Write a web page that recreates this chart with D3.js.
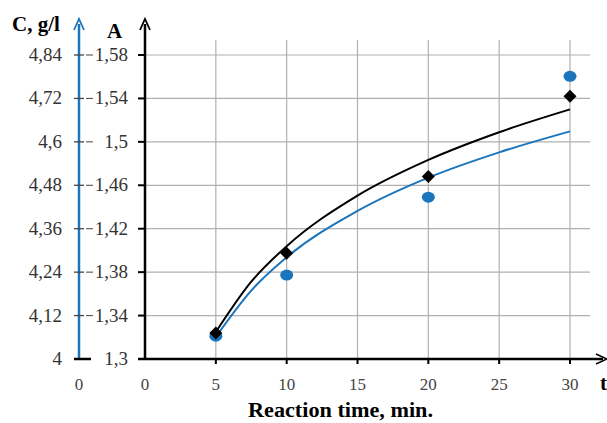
<!DOCTYPE html>
<html>
<head>
<meta charset="utf-8">
<script src="https://cdn.jsdelivr.net/npm/d3@7"></script>
<style>
  body { margin: 0; background: #fff; }
</style>
</head>
<body>
<div id="chart"></div>
<script>
// measured points
var times = [5, 10, 20, 30];
var absorb = [1.324, 1.3975, 1.468, 1.542];   // A (black diamonds)
var conc = [4.063, 4.232, 4.447, 4.781];      // C, g/l (blue circles)

// trend lines
var trendT = [5, 7.5, 10, 15, 20, 25, 30];
var trendA = [1.3248, 1.3712, 1.4039, 1.4505, 1.4834, 1.5089, 1.5299];
var trendC = [4.061, 4.189, 4.281, 4.409, 4.501, 4.571, 4.629];

var xTicks = [5, 10, 15, 20, 25, 30];
var aTicks = [1.3, 1.34, 1.38, 1.42, 1.46, 1.5, 1.54, 1.58];
var cTicks = [4, 4.12, 4.24, 4.36, 4.48, 4.6, 4.72, 4.84];

var W = 607, H = 423;
var blue = "#1b75bc";
var x0 = 145, blueX = 79, yBottom = 359;

var svg = d3.select("#chart").append("svg")
  .attr("width", W).attr("height", H)
  .attr("font-family", "'Liberation Serif', 'Times New Roman', serif");

var x = d3.scaleLinear().domain([0, 30]).range([x0, 570]);
var yA = d3.scaleLinear().domain([1.3, 1.58]).range([yBottom, 55]);
var yC = d3.scaleLinear().domain([4, 4.84]).range([yBottom, 55]);

var fmt = function(v) { return String(+v.toFixed(2)).replace(".", ","); };

// grid
svg.append("g").selectAll("line.h")
  .data(aTicks.slice(1)).enter().append("line")
  .attr("x1", x0).attr("x2", 590)
  .attr("y1", d => yA(d)).attr("y2", d => yA(d))
  .attr("stroke", "#b0b0b0").attr("stroke-width", 1.2);

svg.append("g").selectAll("line.v")
  .data(xTicks).enter().append("line")
  .attr("x1", d => x(d)).attr("x2", d => x(d))
  .attr("y1", 40).attr("y2", yBottom + 4)
  .attr("stroke", "#b0b0b0").attr("stroke-width", 1.2);

// x axis
svg.append("line")
  .attr("x1", x0 - 7).attr("x2", 603)
  .attr("y1", yBottom).attr("y2", yBottom)
  .attr("stroke", "#000").attr("stroke-width", 2.5);
svg.append("path")
  .attr("d", "M596," + (yBottom - 5) + " L607," + yBottom + " L596," + (yBottom + 5))
  .attr("fill", "none").attr("stroke", "#000").attr("stroke-width", 1.5);

svg.append("g").selectAll("line.xt")
  .data(xTicks).enter().append("line")
  .attr("x1", d => x(d)).attr("x2", d => x(d))
  .attr("y1", yBottom).attr("y2", yBottom + 5)
  .attr("stroke", "#000").attr("stroke-width", 2);

svg.append("g").selectAll("text.xl")
  .data([0].concat(xTicks)).enter().append("text")
  .attr("x", d => x(d)).attr("y", 390)
  .attr("text-anchor", "middle")
  .attr("font-size", 17).attr("fill", "#444")
  .text(d => d);
svg.append("text").attr("x", blueX).attr("y", 390)
  .attr("text-anchor", "middle").attr("font-size", 17).attr("fill", "#444")
  .text("0");

// black A axis
svg.append("line")
  .attr("x1", x0).attr("x2", x0).attr("y1", yBottom).attr("y2", 24)
  .attr("stroke", "#000").attr("stroke-width", 2.5);
svg.append("path")
  .attr("d", "M" + (x0 - 5) + ",30 L" + x0 + ",19 L" + (x0 + 5) + ",30")
  .attr("fill", "none").attr("stroke", "#000").attr("stroke-width", 1.8);
svg.append("g").selectAll("line.at")
  .data(aTicks).enter().append("line")
  .attr("x1", x0 - 7).attr("x2", x0)
  .attr("y1", d => yA(d)).attr("y2", d => yA(d))
  .attr("stroke", "#000").attr("stroke-width", 2);
svg.append("g").selectAll("text.al")
  .data(aTicks).enter().append("text")
  .attr("x", 128).attr("y", d => yA(d) + 6)
  .attr("text-anchor", "end")
  .attr("font-size", 19).attr("fill", "#333")
  .text(fmt);

// blue C axis
svg.append("line")
  .attr("x1", blueX).attr("x2", blueX).attr("y1", yBottom).attr("y2", 24)
  .attr("stroke", blue).attr("stroke-width", 2.5);
svg.append("path")
  .attr("d", "M" + (blueX - 5) + ",30 L" + blueX + ",19 L" + (blueX + 5) + ",30")
  .attr("fill", "none").attr("stroke", blue).attr("stroke-width", 1.8);
svg.append("g").selectAll("line.ct")
  .data(cTicks).enter().append("line")
  .attr("x1", blueX - 5).attr("x2", d => d === 4 ? blueX + 12 : blueX + 5)
  .attr("y1", d => yC(d)).attr("y2", d => yC(d))
  .attr("stroke", d => d === 4 ? "#000" : "#444").attr("stroke-width", d => d === 4 ? 2.5 : 1.3);
svg.append("g").selectAll("line.ct2")
  .data(cTicks.slice(1)).enter().append("line")
  .attr("x1", blueX + 7).attr("x2", blueX + 14)
  .attr("y1", d => yC(d)).attr("y2", d => yC(d))
  .attr("stroke", "#555").attr("stroke-width", 1.1);
svg.append("g").selectAll("text.cl")
  .data(cTicks).enter().append("text")
  .attr("x", 62).attr("y", d => yC(d) + 6)
  .attr("text-anchor", "end")
  .attr("font-size", 19).attr("fill", "#333")
  .text(fmt);

// axis titles
svg.append("text").attr("x", 12).attr("y", 31)
  .attr("font-size", 21).attr("font-weight", "bold").text("C, g/l");
svg.append("text").attr("x", 107).attr("y", 38)
  .attr("font-size", 21).attr("font-weight", "bold").text("A");
svg.append("text").attr("x", 600).attr("y", 390)
  .attr("font-size", 21).attr("font-weight", "bold").text("t");
svg.append("text").attr("x", 248).attr("y", 417)
  .attr("textLength", 185).attr("lengthAdjust", "spacingAndGlyphs")
  .attr("font-size", 20).attr("font-weight", "bold").text("Reaction time, min.");

// trend lines
var lineA = d3.line().x(d => x(d[0])).y(d => yA(d[1])).curve(d3.curveMonotoneX);
var lineC = d3.line().x(d => x(d[0])).y(d => yC(d[1])).curve(d3.curveMonotoneX);

svg.append("path")
  .datum(d3.zip(trendT, trendC))
  .attr("d", lineC).attr("fill", "none")
  .attr("stroke", blue).attr("stroke-width", 2);
svg.append("path")
  .datum(d3.zip(trendT, trendA))
  .attr("d", lineA).attr("fill", "none")
  .attr("stroke", "#000").attr("stroke-width", 2);

// markers
svg.append("g").selectAll("ellipse")
  .data(d3.zip(times, conc)).enter().append("ellipse")
  .attr("cx", d => x(d[0])).attr("cy", d => yC(d[1]))
  .attr("rx", 6.5).attr("ry", 5.5)
  .attr("fill", blue);

svg.append("g").selectAll("path.dia")
  .data(d3.zip(times, absorb)).enter().append("path")
  .attr("transform", d => "translate(" + x(d[0]) + "," + yA(d[1]) + ")")
  .attr("d", "M0,-6.5 L6.5,0 L0,6.5 L-6.5,0 Z")
  .attr("fill", "#000");
</script>
</body>
</html>
